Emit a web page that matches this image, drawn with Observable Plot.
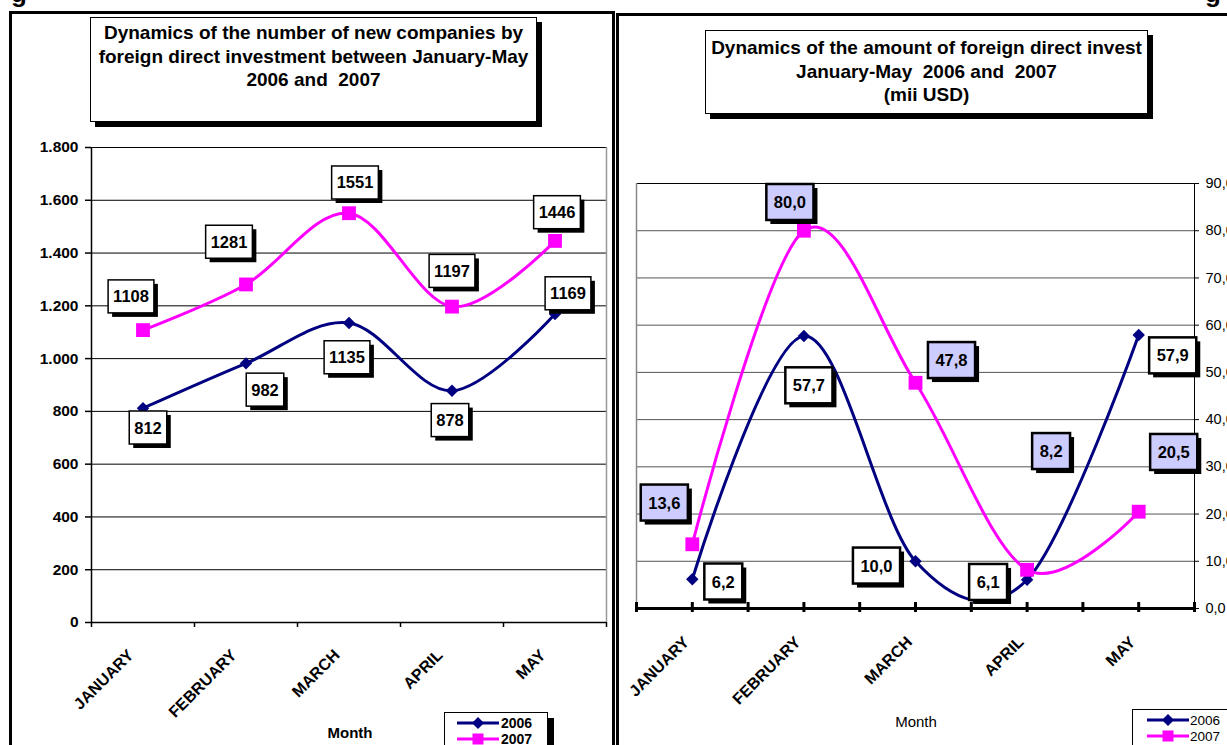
<!DOCTYPE html>
<html><head><meta charset="utf-8">
<script src="https://cdn.jsdelivr.net/npm/d3@7"></script>
<script src="https://cdn.jsdelivr.net/npm/@observablehq/plot@0.6"></script>
<style>
body{margin:0;background:#fff;}
#wrap{position:relative;width:1227px;height:745px;overflow:hidden;font-family:"Liberation Sans",Arial,sans-serif;background:#fff;color:#000;}
.panel{position:absolute;border:3px solid #000;box-sizing:border-box;pointer-events:none;}
.chart{position:absolute;top:0;}
.title{position:absolute;background:#fff;border:1px solid #000;box-shadow:5px 5px 0 #000;font-weight:bold;font-size:19px;text-align:center;line-height:23.5px;box-sizing:border-box;overflow:hidden;white-space:nowrap;}
.legend{position:absolute;background:#fff;border:1.5px solid #000;box-sizing:border-box;}
.axt{position:absolute;font-size:15px;transform:translateX(-50%);white-space:nowrap;}
.frag{position:absolute;font-weight:bold;font-size:26px;line-height:26px;}
</style>
</head><body>
<div id="wrap">
  <div class="frag" style="left:11px;top:-20px;">g</div>
  <div class="frag" style="left:1205px;top:-20px;">g</div>
  <div class="panel" style="left:9px;top:11px;width:606px;height:800px;"></div>
  <div class="panel" style="left:616px;top:13px;width:700px;height:800px;"></div>
  <div id="left" class="chart" style="left:0;"></div>
  <div id="right" class="chart" style="left:620px;"></div>
  <div class="title" style="left:90px;top:17px;width:447px;height:105px;padding-top:3px;">
    Dynamics of the number of new companies by<br>foreign direct investment between January-May<br>2006 and&nbsp; 2007
  </div>
  <div class="title" style="left:705px;top:30px;width:443px;height:84px;padding-top:5px;">
    Dynamics of the amount of foreign direct invest<br>January-May&nbsp; 2006 and&nbsp; 2007<br>(mii USD)
  </div>
  <div class="axt" style="left:350px;top:724px;font-weight:bold;">Month</div>
  <div class="axt" style="left:916px;top:713px;">Month</div>
  <div class="legend" style="left:444px;top:712px;width:104px;height:60px;box-shadow:6px 6px 0 #000;">
    <svg width="104" height="40" style="display:block">
      <line x1="12" x2="54" y1="10" y2="10" stroke="#000080" stroke-width="3"/>
      <path d="M33,4L39,10L33,16L27,10Z" fill="#000080"/>
      <text x="56" y="10" dy="0.35em" font-size="14" font-weight="bold">2006</text>
      <line x1="12" x2="54" y1="26" y2="26" stroke="#ff00ff" stroke-width="3"/>
      <rect x="27.5" y="20.5" width="11" height="11" fill="#ff00ff"/>
      <text x="56" y="26" dy="0.35em" font-size="14" font-weight="bold">2007</text>
    </svg>
  </div>
  <div class="legend" style="left:1132px;top:709px;width:120px;height:60px;border-width:1px;">
    <svg width="120" height="40" style="display:block">
      <line x1="14" x2="56" y1="10" y2="10" stroke="#000080" stroke-width="3"/>
      <path d="M35,4L41,10L35,16L29,10Z" fill="#000080"/>
      <text x="57" y="10" dy="0.35em" font-size="13.5">2006</text>
      <line x1="14" x2="56" y1="26" y2="26" stroke="#ff00ff" stroke-width="3"/>
      <rect x="29.5" y="20.5" width="11" height="11" fill="#ff00ff"/>
      <text x="57" y="26" dy="0.35em" font-size="13.5">2007</text>
    </svg>
  </div>
</div>
<script>
// ---------- data ----------
const months = ["JANUARY", "FEBRUARY", "MARCH", "APRIL", "MAY"];
const companies2006 = [812, 982, 1135, 878, 1169];
const companies2007 = [1108, 1281, 1551, 1197, 1446];
const fdi2006 = [6.2, 57.7, 10.0, 6.1, 57.9];
const fdi2007 = [13.6, 80.0, 47.8, 8.2, 20.5];
const companyTicks = [0, 200, 400, 600, 800, 1000, 1200, 1400, 1600, 1800];
const fdiTicks = [0, 10, 20, 30, 40, 50, 60, 70, 80, 90];

// ---------- layout (label box offsets in px, relative to point) ----------
const leftLabelOffsets = {
  "2006": [[5, 20], [19, 27], [-2, 35], [-2, 30], [13, -20]],
  "2007": [[-12, -33], [-17, -42], [6, -30], [0, -35], [2, -28]]
};
const rightLabelOffsets = {
  "2006": [[31, 3], [5, 50], [-39, 5], [-39, 3], [34, 21]],
  "2007": [[-28, -41], [-14, -28], [36, -22], [24, -118], [35, -59]]
};

const NAVY = "#000080", MAGENTA = "#ff00ff";
const FONT = '"Liberation Sans", Arial, sans-serif';
const rows = (vals, year) => vals.map((v, i) => ({x: i + 0.5, month: months[i], year, value: v}));
const thousands = d3.formatLocale({decimal: ",", thousands: ".", grouping: [3], currency: ["", ""]}).format(",");
const oneDec = d => d.toFixed(1).replace(".", ",");
const edgeTicks = d3.range(0, 6);
const centerTicks = months.map((m, i) => i + 0.5);
const halfTicks = d3.range(0, 11).map(i => i / 2);

function labelMarks(data, offsets, fmt, desc, fontSize) {
  return data.map((d, i) => Plot.text([d], {
    x: "x", y: "value", text: r => fmt(r.value),
    dx: offsets[i][0], dy: offsets[i][1],
    fontSize, fontWeight: "bold", fill: "#000", ariaDescription: desc
  }));
}

function boxLabels(svg, desc, o) {
  svg.querySelectorAll(`g[aria-description="${desc}"] text`).forEach(t => {
    const bb = t.getBBox();
    const g = t.parentNode;
    const tr = t.getAttribute("transform");
    const mk = (x, y, fill, stroke, sw) => {
      const r = document.createElementNS("http://www.w3.org/2000/svg", "rect");
      r.setAttribute("x", x); r.setAttribute("y", y);
      r.setAttribute("width", bb.width + 2 * o.padX);
      r.setAttribute("height", bb.height + 2 * o.padY);
      r.setAttribute("fill", fill);
      r.setAttribute("stroke", stroke);
      r.setAttribute("stroke-width", sw);
      if (tr) r.setAttribute("transform", tr);
      g.insertBefore(r, t);
    };
    mk(bb.x - o.padX + o.shadow, bb.y - o.padY + o.shadow, "#000", "none", 0);
    mk(bb.x - o.padX, bb.y - o.padY, o.fill, "#000", o.strokeWidth);
  });
}

// ---------- left chart ----------
const L06 = rows(companies2006, "2006"), L07 = rows(companies2007, "2007");
const leftPlot = Plot.plot({
  width: 615, height: 745,
  marginLeft: 91, marginRight: 9, marginTop: 147, marginBottom: 123,
  style: {fontFamily: FONT, fontSize: "14px", background: "none", maxWidth: "none", overflow: "visible"},
  x: {domain: [0, 5], label: null},
  y: {domain: [0, 1800], label: null},
  marks: [
    Plot.ruleY(companyTicks.slice(1), {stroke: "#000", strokeWidth: 1}),
    Plot.ruleX([5], {stroke: "#999", strokeWidth: 1.5}),
    Plot.ruleX([0], {stroke: "#000", strokeWidth: 1.5}),
    Plot.ruleY([0], {stroke: "#000", strokeWidth: 1.5}),
    Plot.axisY({ticks: companyTicks, tickFormat: thousands, tickSize: 6, tickPadding: 7, fontSize: 15.5, fontWeight: "bold", strokeWidth: 1.5, label: null}),
    Plot.axisX({ticks: edgeTicks, tickSize: 5, tickFormat: () => "", strokeWidth: 1.5, label: null}),
    Plot.axisX({ticks: centerTicks, tickSize: 0, tickPadding: 30, dx: -12, tickRotate: -45, tickFormat: d => months[Math.floor(d)], fontSize: 16, fontWeight: "bold", label: null}),
    Plot.line(L06, {x: "x", y: "value", stroke: NAVY, strokeWidth: 3, curve: "cardinal"}),
    Plot.line(L07, {x: "x", y: "value", stroke: MAGENTA, strokeWidth: 3, curve: "cardinal"}),
    Plot.dot(L06, {x: "x", y: "value", symbol: "diamond2", r: 5.6, fill: NAVY, stroke: "none"}),
    Plot.dot(L07, {x: "x", y: "value", symbol: "square", r: 7.8, fill: MAGENTA, stroke: "none"}),
    ...labelMarks(L06, leftLabelOffsets["2006"], v => String(v), "lbl-l", 16.5),
    ...labelMarks(L07, leftLabelOffsets["2007"], v => String(v), "lbl-l", 16.5)
  ]
});
document.getElementById("left").appendChild(leftPlot);
boxLabels(leftPlot, "lbl-l", {fill: "#fff", strokeWidth: 1.5, shadow: 4, padX: 5, padY: 7.5});

// ---------- right chart ----------
const R06 = rows(fdi2006, "2006"), R07 = rows(fdi2007, "2007");
const rightPlot = Plot.plot({
  width: 607, height: 745,
  marginLeft: 16, marginRight: 33, marginTop: 183, marginBottom: 137,
  style: {fontFamily: FONT, fontSize: "14px", background: "none", maxWidth: "none", overflow: "visible"},
  x: {domain: [0, 5], label: null},
  y: {domain: [0, 90], label: null},
  marks: [
    Plot.ruleY(fdiTicks.slice(1, -1), {stroke: "#555", strokeWidth: 1}),
    Plot.ruleY([90], {stroke: "#000", strokeWidth: 1}),
    Plot.ruleX([0], {stroke: "#888", strokeWidth: 1.5}),
    Plot.ruleX([5], {stroke: "#000", strokeWidth: 1}),
    Plot.axisY({anchor: "right", ticks: fdiTicks, tickFormat: oneDec, tickSize: 4, tickPadding: 7, fontSize: 14.5, label: null}),
    Plot.ruleX(halfTicks, {insetTop: 425 - 6, stroke: "#000", strokeWidth: 3}),
    Plot.axisX({ticks: halfTicks, tickSize: 4, tickFormat: () => "", strokeWidth: 3, label: null}),
    Plot.ruleY([0], {stroke: "#000", strokeWidth: 3}),
    Plot.axisX({ticks: centerTicks, tickSize: 0, tickPadding: 31, dx: -6, tickRotate: -45, tickFormat: d => months[Math.floor(d)], fontSize: 16, fontWeight: "bold", label: null}),
    Plot.line(R06, {x: "x", y: "value", stroke: NAVY, strokeWidth: 3, curve: "cardinal"}),
    Plot.line(R07, {x: "x", y: "value", stroke: MAGENTA, strokeWidth: 3, curve: "cardinal"}),
    Plot.dot(R06, {x: "x", y: "value", symbol: "diamond2", r: 5.6, fill: NAVY, stroke: "none"}),
    Plot.dot(R07, {x: "x", y: "value", symbol: "square", r: 7.8, fill: MAGENTA, stroke: "none"}),
    ...labelMarks(R06, rightLabelOffsets["2006"], oneDec, "lbl-r06", 16.5),
    ...labelMarks(R07, rightLabelOffsets["2007"], oneDec, "lbl-r07", 16.5)
  ]
});
document.getElementById("right").appendChild(rightPlot);
boxLabels(rightPlot, "lbl-r06", {fill: "#fff", strokeWidth: 2.5, shadow: 4, padX: 7.5, padY: 9});
boxLabels(rightPlot, "lbl-r07", {fill: "#ccccff", strokeWidth: 2.5, shadow: 4, padX: 7.5, padY: 9});
</script>
</body></html>
